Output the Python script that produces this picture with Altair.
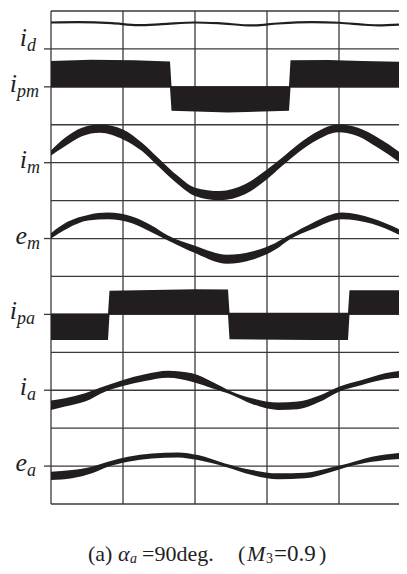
import altair as alt
import pandas as pd

# ---------------- data (x: time units across the plot, y: offset from each trace's zero line)
SIGNALS = ["i_d", "i_pm", "i_m", "e_m", "i_pa", "i_a", "e_a"]
MAIN = ["i", "i", "i", "e", "i", "i", "e"]
SUB = ["d", "pm", "m", "m", "pa", "a", "a"]
BASE = [456, 418, 342, 266, 190, 114, 38]

ID_X = [0, 27, 61, 87, 111, 144, 167, 201, 227, 261, 288, 314, 327, 356]
ID_Y = [26.5, 26.8, 25.8, 23.8, 24.8, 26.5, 25.8, 23.5, 25.5, 26.8, 26.2, 24.2, 23.5, 24.8]

IPM_X = [0, 40, 83, 119, 120.5, 177, 238, 239.5, 277, 311, 356]
IPM_HI = [26.0, 27.2, 26.6, 25.3, 0.6, 0.6, 0.6, 26.6, 27.0, 26.0, 25.0]
IPM_LO = [-0.7, -0.7, -0.7, -0.7, -24.0, -25.7, -24.0, -0.7, -0.7, -0.7, -0.7]

IM_X = [0, 14, 31, 49, 72, 91, 107, 127, 144, 169, 194, 216, 231, 247, 267, 287, 307, 327, 356]
IM_HI = [12.3, 25.0, 35.0, 38.3, 33.3, 20.0, 5.0, -13.4, -25.0, -28.4, -21.7, -6.7, 5.0, 18.3, 31.6, 38.3, 35.0, 25.0, 5.0]
IM_LO = [7.3, 16.6, 26.6, 30.0, 23.3, 11.6, -3.4, -21.7, -33.4, -37.7, -31.7, -16.7, -3.4, 10.0, 23.3, 30.6, 26.6, 15.0, -5.0]

EM_X = [0, 17, 37, 57, 81, 101, 117, 144, 176, 201, 224, 239, 261, 291, 321, 356]
EM_HI = [5.4, 17.0, 23.7, 26.0, 22.0, 12.7, 3.0, -7.3, -16.3, -13.0, -4.6, 3.7, 15.4, 26.0, 20.4, 5.4]
EM_LO = [0.0, 10.4, 18.0, 19.4, 15.4, 6.0, -2.0, -14.6, -25.3, -21.3, -11.3, -0.6, 9.4, 19.4, 14.7, 0.0]

IPA_X = [0, 57, 58.5, 144, 177, 178.5, 261, 297, 298.5, 356]
IPA_HI = [1.0, 1.0, 23.6, 25.3, 25.0, 1.6, 1.6, 1.6, 24.3, 24.3]
IPA_LO = [-25.7, -25.7, 0.0, 0.0, 0.0, -25.0, -25.7, -25.7, 0.0, 0.0]

IA_X = [0, 14, 34, 54, 72, 94, 117, 141, 161, 181, 201, 227, 247, 267, 288, 311, 334, 356]
IA_HI = [-10.4, -8.0, -3.0, 4.3, 10.3, 16.0, 19.6, 17.0, 8.6, -1.4, -8.0, -12.4, -11.4, -5.7, 3.6, 10.3, 17.0, 20.3]
IA_LO = [-19.7, -16.4, -11.4, -1.4, 4.3, 9.3, 12.6, 8.6, 2.0, -4.7, -13.7, -19.7, -19.0, -12.4, -1.4, 5.3, 11.0, 13.0]

EA_X = [0, 21, 41, 57, 77, 101, 127, 147, 174, 201, 227, 254, 281, 297, 321, 356]
EA_HI = [-5.7, -4.0, -0.7, 4.3, 9.3, 12.7, 13.7, 11.0, 2.7, -4.0, -7.3, -6.7, -1.3, 2.7, 9.3, 13.7]
EA_LO = [-14.0, -12.3, -7.3, -0.7, 4.3, 7.7, 8.7, 6.0, -0.7, -9.0, -13.3, -12.3, -5.7, -0.7, 4.3, 7.7]

VLINES = [0, 72, 144, 216, 288]
HLINES = list(range(0, 495, 38))

CAPTION = [  # text, x(px), y(px), size, italic
    ("(a)", 37, 550, 22, False),
    ("α", 67, 550, 22, True),
    ("a", 79, 552, 14, True),
    ("=90deg.", 91, 550, 22, False),
    ("(", 187, 550, 22, False),
    ("M", 196, 550, 22, True),
    ("3", 215, 552, 14, False),
    ("=0.9", 223, 550, 23, False),
    (")", 268, 550, 22, False),
]

INK = "#221e1f"
GRID = "#3a3a3a"
SERIF = "Liberation Serif"
BASEMAP = dict(zip(SIGNALS, BASE))


def band(name, xs_, hi, lo):
    b = BASEMAP[name]
    return pd.DataFrame({"signal": name, "x": xs_,
                         "hi": [b + v for v in hi], "lo": [b + v for v in lo]})


smooth = pd.concat([band("i_m", IM_X, IM_HI, IM_LO),
                    band("e_m", EM_X, EM_HI, EM_LO),
                    band("i_a", IA_X, IA_HI, IA_LO),
                    band("e_a", EA_X, EA_HI, EA_LO)], ignore_index=True)
square = pd.concat([band("i_pm", IPM_X, IPM_HI, IPM_LO),
                    band("i_pa", IPA_X, IPA_HI, IPA_LO)], ignore_index=True)
idline = pd.DataFrame({"x": ID_X, "y": [BASEMAP["i_d"] + v for v in ID_Y]})
labels = pd.DataFrame({"signal": SIGNALS, "main": MAIN, "sub": SUB, "base": BASE})

PW = 348
xs = alt.Scale(domain=[0, PW], nice=False, zero=False)
ys = alt.Scale(domain=[0, 494], nice=False, zero=False)

gx = alt.Chart(pd.DataFrame({"x": VLINES})).mark_rule(color=GRID, strokeWidth=1.3).encode(
    x=alt.X("x:Q", scale=xs, axis=None))
gy = alt.Chart(pd.DataFrame({"y": HLINES})).mark_rule(color=GRID, strokeWidth=1.3).encode(
    y=alt.Y("y:Q", scale=ys, axis=None))

ticks = alt.Chart(labels).mark_rule(color=GRID, strokeWidth=1.3).encode(
    y=alt.Y("base:Q", scale=ys, axis=None), x=alt.value(-7), x2=alt.value(0))

smooth_l = alt.Chart(smooth).mark_area(color=INK, interpolate="monotone").encode(
    x=alt.X("x:Q", scale=xs, axis=None),
    y=alt.Y("hi:Q", scale=ys, axis=None, stack=None),
    y2="lo:Q", detail="signal:N")
square_l = alt.Chart(square).mark_area(color=INK, interpolate="linear").encode(
    x=alt.X("x:Q", scale=xs, axis=None),
    y=alt.Y("hi:Q", scale=ys, axis=None, stack=None),
    y2="lo:Q", detail="signal:N")
id_l = alt.Chart(idline).mark_line(color=INK, strokeWidth=2.2, interpolate="monotone").encode(
    x=alt.X("x:Q", scale=xs, axis=None), y=alt.Y("y:Q", scale=ys, axis=None))

lab_base = alt.Chart(labels).transform_calculate(
    lx="length(datum.sub) > 1 ? -34 : -24",
    ly="datum.sub == 'd' ? datum.base + 3 : datum.base - 5",
    sy="datum.sub == 'd' ? datum.base - 2 : datum.base - 10",
)
mains = lab_base.mark_text(font=SERIF, fontStyle="italic", fontSize=26, align="right",
                           baseline="alphabetic", color=INK).encode(
    x=alt.X("lx:Q", scale=xs, axis=None), y=alt.Y("ly:Q", scale=ys, axis=None), text="main:N")
subs = lab_base.mark_text(font=SERIF, fontStyle="italic", fontSize=18, align="left",
                          baseline="alphabetic", color=INK).encode(
    x=alt.X("lx:Q", scale=xs, axis=None), y=alt.Y("sy:Q", scale=ys, axis=None), text="sub:N")

one = pd.DataFrame({"k": [0]})
caps = []
for txt, cx, cy, size, ital in CAPTION:
    kw = dict(font=SERIF, fontSize=size, align="left", baseline="alphabetic", color=INK)
    if ital:
        kw["fontStyle"] = "italic"
    caps.append(alt.Chart(one).mark_text(**kw).encode(
        x=alt.value(cx), y=alt.value(cy), text=alt.value(txt)))

chart = alt.layer(gx, gy, ticks, smooth_l, square_l, id_l, mains, subs, *caps).properties(
    width=PW, height=493,
    autosize=alt.AutoSizeParams(type="none"),
    padding={"left": 43, "top": 3, "right": 0, "bottom": 62},
    background="white",
).configure_view(strokeWidth=0)

chart.save("out.html", embed_options={"renderer": "svg", "actions": False})
